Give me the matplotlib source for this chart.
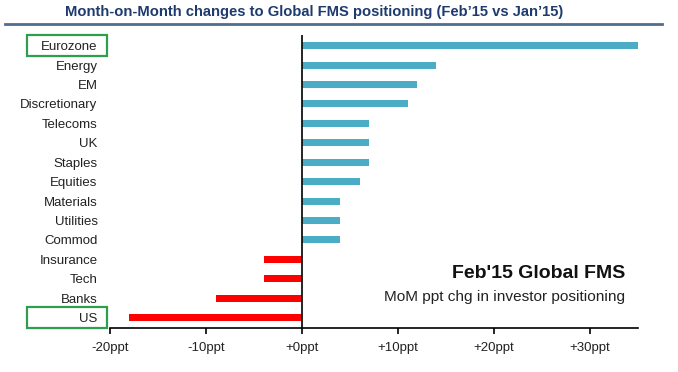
import matplotlib
matplotlib.use("Agg")
import matplotlib.pyplot as plt
from matplotlib.patches import Rectangle
from matplotlib.lines import Line2D

# Global FMS, endring i posisjonering feb'15 mot jan'15 (ppt)
kategorier = ["Eurozone", "Energy", "EM", "Discretionary", "Telecoms", "UK",
              "Staples", "Equities", "Materials", "Utilities", "Commod",
              "Insurance", "Tech", "Banks", "US"]
endring = [35, 14, 12, 11, 7, 7, 7, 6, 4, 4, 4, -4, -4, -9, -18]
x_ticks = [-20, -10, 0, 10, 20, 30]
x_tick_labels = ["-20ppt", "-10ppt", "+0ppt", "+10ppt", "+20ppt", "+30ppt"]
uthevet = ["Eurozone", "US"]

W, H = 678, 372
plt.rcParams['font.family'] = ['Liberation Sans', 'DejaVu Sans']

fig = plt.figure(figsize=(W / 100, H / 100), dpi=100)

# aksene plasseres i pikselkoordinater
ax_l, ax_r, ax_t, ax_b = 110, 638, 35, 328
ax = fig.add_axes([ax_l / W, 1 - ax_b / H, (ax_r - ax_l) / W, (ax_b - ax_t) / H])

n = len(kategorier)
ypos = [n - 1 - i for i in range(n)]
farger = ["#4BACC6" if v >= 0 else "#FF0000" for v in endring]
ax.barh(ypos, endring, height=0.36, color=farger)

ax.set_xlim(-20, 35)
ax.set_ylim(-0.53, n - 1 + 0.55)
ax.axvline(0, color="black", lw=1.2)

for s in ["top", "right", "left"]:
    ax.spines[s].set_visible(False)
ax.spines["bottom"].set_linewidth(1.2)

ax.set_xticks(x_ticks)
ax.set_xticklabels(x_tick_labels, fontsize=9.5, color="#222222")
ax.tick_params(axis="x", direction="out", length=4, width=1.2, pad=6)
ax.set_yticks(ypos)
ax.set_yticklabels(kategorier, fontsize=9.5, color="#222222")
ax.tick_params(axis="y", length=0, pad=9)

# tittel og linje under
fig.text(314 / W, 1 - 12 / H, "Month-on-Month changes to Global FMS positioning (Feb\u201915 vs Jan\u201915)",
         ha="center", va="center", fontsize=10.6, fontweight="bold", color="#1F3B6E")
fig.add_artist(Line2D([5 / W, 662 / W], [1 - 24 / H, 1 - 24 / H], color="#4F6E8F", lw=2))

# forklaring nede til høyre
fig.text(625 / W, 1 - 273 / H, "Feb'15 Global FMS", ha="right", va="center",
         fontsize=14, fontweight="bold", color="#111111")
fig.text(625 / W, 1 - 297 / H, "MoM ppt chg in investor positioning", ha="right", va="center",
         fontsize=11.1, color="#222222")

# grønne rammer rundt utvalgte etiketter
rad_h = (317.7 - 45.7) / (n - 1)
for navn in uthevet:
    i = kategorier.index(navn)
    yc = 45.7 + i * rad_h
    fig.add_artist(Rectangle((27 / W, 1 - (yc + 10.5) / H), 80 / W, 21 / H,
                             fill=False, edgecolor="#2E9E4F", lw=1.6))

fig.savefig("out.png", dpi=100)
